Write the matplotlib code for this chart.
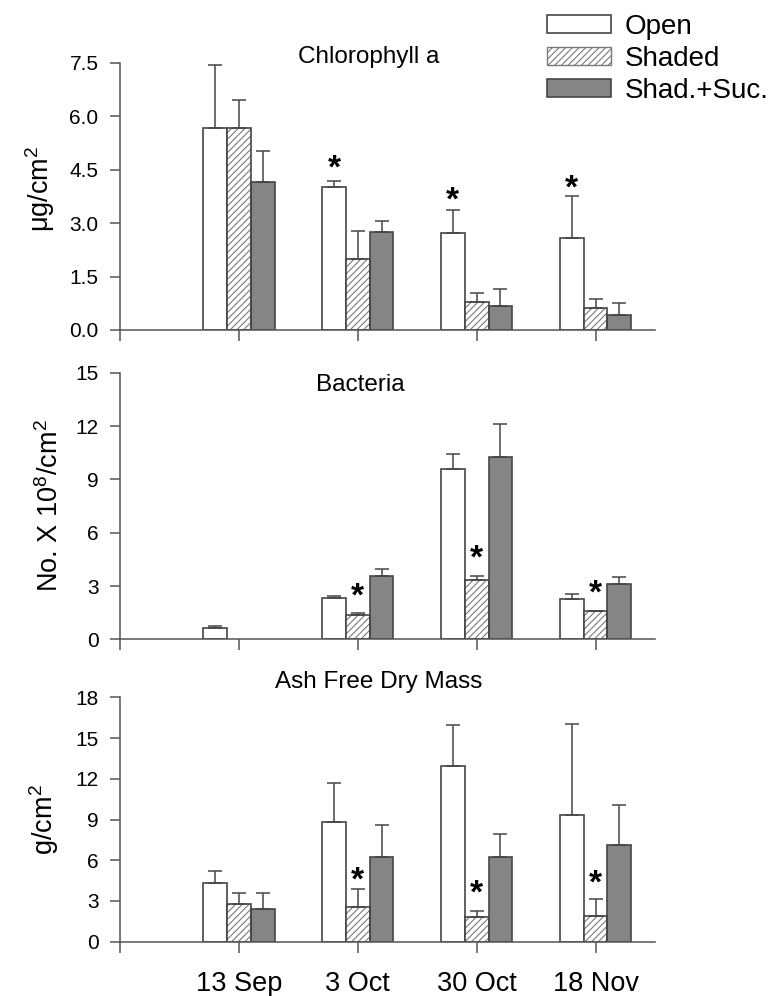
import numpy as np
import matplotlib
matplotlib.use("Agg")
import matplotlib.pyplot as plt
from matplotlib.patches import Rectangle
from matplotlib import transforms

plt.rcParams['font.family'] = ['Liberation Sans', 'DejaVu Sans']
plt.rcParams['mathtext.fontset'] = 'custom'
plt.rcParams['mathtext.rm'] = 'Liberation Sans'
plt.rcParams['mathtext.default'] = 'regular'
plt.rcParams['hatch.linewidth'] = 0.8

# ---------------- data ----------------
dates = ['13 Sep', '3 Oct', '30 Oct', '18 Nov']
series = ['Open', 'Shaded', 'Shad.+Suc.']

chl_open = [5.68, 4.01, 2.71, 2.58]
chl_open_err = [1.76, 0.18, 0.66, 1.18]
chl_shaded = [5.67, 1.99, 0.78, 0.63]
chl_shaded_err = [0.79, 0.79, 0.25, 0.25]
chl_suc = [4.17, 2.76, 0.67, 0.42]
chl_suc_err = [0.87, 0.30, 0.49, 0.35]
chl_stars = [(1, 0, 4.83), (2, 0, 3.93), (3, 0, 4.27)]  # (date idx, series idx, y)

bac_open = [0.65, 2.31, 9.56, 2.27]
bac_open_err = [0.10, 0.14, 0.84, 0.30]
bac_shaded = [np.nan, 1.37, 3.34, 1.59]
bac_shaded_err = [np.nan, 0.09, 0.24, 0.03]
bac_suc = [np.nan, 3.58, 10.24, 3.11]
bac_suc_err = [np.nan, 0.36, 1.85, 0.41]
bac_stars = [(1, 1, 2.96), (2, 1, 5.13), (3, 1, 3.15)]

afdm_open = [4.35, 8.84, 12.94, 9.33]
afdm_open_err = [0.88, 2.82, 2.99, 6.67]
afdm_shaded = [2.78, 2.53, 1.84, 1.89]
afdm_shaded_err = [0.78, 1.33, 0.44, 1.23]
afdm_suc = [2.38, 6.21, 6.21, 7.14]
afdm_suc_err = [1.23, 2.36, 1.70, 2.93]
afdm_stars = [(1, 1, 5.28), (2, 1, 4.32), (3, 1, 5.06)]

chl_ticks = [0.0, 1.5, 3.0, 4.5, 6.0, 7.5]
bac_ticks = [0, 3, 6, 9, 12, 15]
afdm_ticks = [0, 3, 6, 9, 12, 15, 18]

# ---------------- style ----------------
W = 0.2
offsets = [-W, 0.0, W]
EDGE = '#454545'
AXC = '#555555'
FILL_DARK = '#858585'
HATCH_C = '#7a7a7a'
STAR_FS = 24

fig = plt.figure(figsize=(7.73, 9.96), dpi=100)

positions = [
    [0.1552, 0.6687, 0.6921, 0.2681],
    [0.1552, 0.3581, 0.6921, 0.2677],
    [0.1552, 0.0545, 0.6921, 0.2454],
]

panels = [
    dict(vals=[chl_open, chl_shaded, chl_suc], errs=[chl_open_err, chl_shaded_err, chl_suc_err],
         stars=chl_stars, ticks=chl_ticks, fmt='{:.1f}', title='Chlorophyll a',
         tpos=(0.464, 1.022), ylabel='μg/cm$^2$', lpos=(-0.15, 0.53)),
    dict(vals=[bac_open, bac_shaded, bac_suc], errs=[bac_open_err, bac_shaded_err, bac_suc_err],
         stars=bac_stars, ticks=bac_ticks, fmt='{:d}', title='Bacteria',
         tpos=(0.449, 0.954), ylabel='No. X 10$^8$/cm$^2$', lpos=(-0.13, 0.50)),
    dict(vals=[afdm_open, afdm_shaded, afdm_suc], errs=[afdm_open_err, afdm_shaded_err, afdm_suc_err],
         stars=afdm_stars, ticks=afdm_ticks, fmt='{:d}', title='Ash Free Dry Mass',
         tpos=(0.484, 1.063), ylabel='g/cm$^2$', lpos=(-0.142, 0.50)),
]

x = np.arange(1, len(dates) + 1)

for i, (pos, p) in enumerate(zip(positions, panels)):
    ax = fig.add_axes(pos)
    for s in range(3):
        xs = x + offsets[s]
        v = np.array(p['vals'][s], dtype=float)
        e = np.array(p['errs'][s], dtype=float)
        if s == 0:
            ax.bar(xs, v, W, color='white', edgecolor=EDGE, linewidth=1.2, zorder=2)
        elif s == 1:
            ax.bar(xs, v, W, color='white', edgecolor=HATCH_C, linewidth=0, hatch='/////', zorder=2)
            ax.bar(xs, v, W, fill=False, edgecolor=EDGE, linewidth=1.2, zorder=2.5)
        else:
            ax.bar(xs, v, W, color=FILL_DARK, edgecolor=EDGE, linewidth=1.2, zorder=2)
        ax.errorbar(xs, v, yerr=[np.zeros_like(e), e], fmt='none', ecolor=EDGE,
                    elinewidth=1.1, capsize=5, capthick=1.1, zorder=3)
    star_tr = transforms.offset_copy(ax.transData, fig=fig, y=-0.58 * STAR_FS, units='points')
    for (di, si, yy) in p['stars']:
        ax.text(x[di] + offsets[si], yy, '*', fontsize=STAR_FS, fontweight='bold',
                ha='center', va='baseline', transform=star_tr, color='black', zorder=4)

    ax.set_xlim(0, 4.5)
    ax.set_ylim(p['ticks'][0], p['ticks'][-1])
    ax.set_yticks(p['ticks'])
    ax.set_yticklabels([p['fmt'].format(t) for t in p['ticks']])
    ax.set_xticks([0] + list(x))
    if i == 2:
        ax.set_xticklabels([''] + dates)
    else:
        ax.set_xticklabels([''] * 5)
    for side in ['top', 'right']:
        ax.spines[side].set_visible(False)
    for side in ['left', 'bottom']:
        ax.spines[side].set_color(AXC)
        ax.spines[side].set_linewidth(1.1)
    ax.tick_params(axis='y', direction='out', length=7.5, width=1.1, color=AXC,
                   labelsize=15, pad=8)
    ax.tick_params(axis='x', direction='out', length=8, width=1.1, color=AXC,
                   labelsize=19.5, pad=13)
    ax.set_ylabel(p['ylabel'], fontsize=19.5, va='center')
    ax.yaxis.set_label_coords(*p['lpos'])
    ax.text(p['tpos'][0], p['tpos'][1], p['title'], transform=ax.transAxes,
            ha='center', va='center', fontsize=17.5)

handles = [
    Rectangle((0, 0), 1, 1, facecolor='white', edgecolor=EDGE, linewidth=1.2),
    Rectangle((0, 0), 1, 1, facecolor='white', edgecolor=HATCH_C, linewidth=1.0, hatch='/////'),
    Rectangle((0, 0), 1, 1, facecolor=FILL_DARK, edgecolor=EDGE, linewidth=1.2),
]
fig.legend(handles, series, loc='upper left', bbox_to_anchor=(547 / 773, 1 - 14 / 996),
           frameon=False, fontsize=20, handlelength=2.3, handleheight=0.62,
           handletextpad=0.5, labelspacing=0.22, borderpad=0, borderaxespad=0)

fig.savefig('out.png', dpi=100)
